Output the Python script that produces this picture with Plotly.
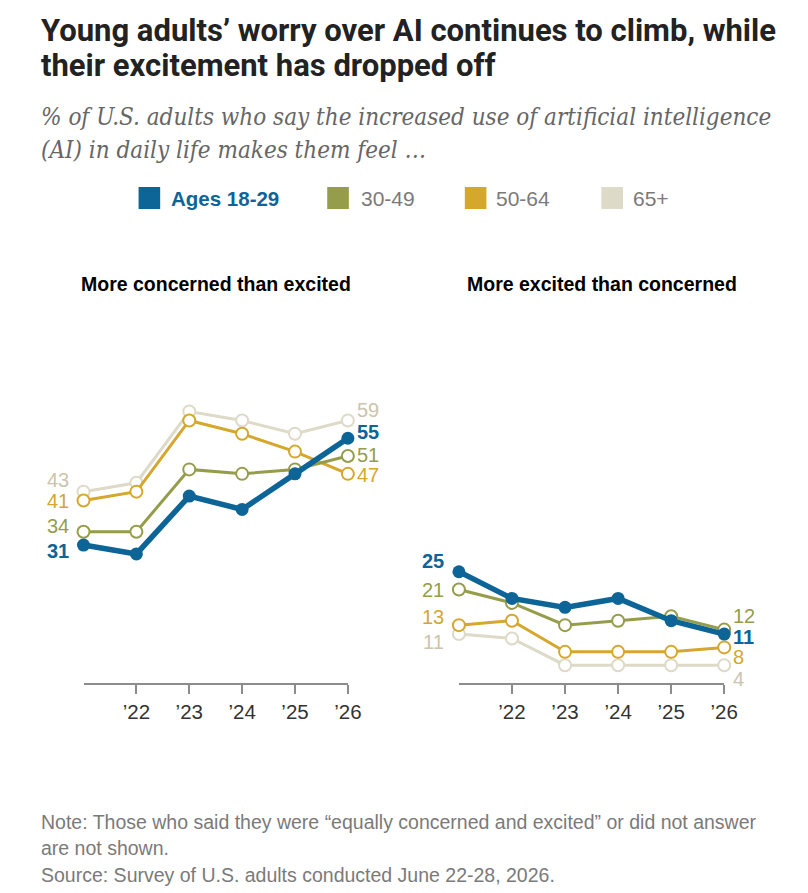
import plotly.graph_objects as go

W, H = 808, 893

years = [0, 1, 2, 3, 4, 5]
tick_vals = [1, 2, 3, 4, 5]
tick_text = ["\u201922", "\u201923", "\u201924", "\u201925", "\u201926"]

groups = ["Ages 18-29", "30-49", "50-64", "65+"]

concerned_18_29 = [31, 29, 42, 39, 47, 55]
concerned_30_49 = [34, 34, 48, 47, 48, 51]
concerned_50_64 = [41, 43, 59, 56, 52, 47]
concerned_65 = [43, 45, 61, 59, 56, 59]

excited_18_29 = [25, 19, 17, 19, 14, 11]
excited_30_49 = [21, 18, 13, 14, 15, 12]
excited_50_64 = [13, 14, 7, 7, 7, 8]
excited_65 = [11, 10, 4, 4, 4, 4]

panel_titles = ["More concerned than excited", "More excited than concerned"]

BLUE = "#0d6597"
OLIVE = "#959d4b"
GOLD = "#d5a72d"
BEIGE = "#dddac8"
BEIGE_TXT = "#cbc4ae"
colors = {"Ages 18-29": BLUE, "30-49": OLIVE, "50-64": GOLD, "65+": BEIGE}
label_colors = {"Ages 18-29": BLUE, "30-49": OLIVE, "50-64": GOLD, "65+": BEIGE_TXT}

concerned = {"Ages 18-29": concerned_18_29, "30-49": concerned_30_49,
             "50-64": concerned_50_64, "65+": concerned_65}
excited = {"Ages 18-29": excited_18_29, "30-49": excited_30_49,
           "50-64": excited_50_64, "65+": excited_65}


def px(x):
    return x / W


def py(y):
    return 1 - y / H


fig = go.Figure()

panels = [(concerned, "x", "y"), (excited, "x2", "y2")]
draw_order = ["65+", "50-64", "30-49", "Ages 18-29"]
for data, xa, ya in panels:
    for g in draw_order:
        young = g == "Ages 18-29"
        fig.add_trace(go.Scatter(
            x=years, y=data[g], xaxis=xa, yaxis=ya, mode="lines+markers",
            line=dict(color=colors[g], width=5.5 if young else 3),
            marker=dict(size=13 if young else 12,
                        color=colors[g] if young else "white",
                        line=dict(color=colors[g], width=0 if young else 2)),
            cliponaxis=False, showlegend=False, hoverinfo="skip"))

# label shifts (start, end) per panel, in pixels
shifts = [
    {"Ages 18-29": (-5, 7), "30-49": (6, 2), "50-64": (0, -1), "65+": (12, 11)},
    {"Ages 18-29": (11, -2), "30-49": (0, 14), "50-64": (9, -9), "65+": (-7, -13)},
]
annotations = []
for (data, xa, ya), sh in zip(panels, shifts):
    for g in groups:
        young = g == "Ages 18-29"
        fnt = dict(family="Liberation Sans, Arial, sans-serif", size=20,
                   color=label_colors[g])
        txt0 = f"<b>{data[g][0]}</b>" if young else str(data[g][0])
        txt1 = f"<b>{data[g][-1]}</b>" if young else str(data[g][-1])
        annotations.append(dict(x=years[0], y=data[g][0], xref=xa, yref=ya,
                                text=txt0, showarrow=False, xanchor="right",
                                xshift=-13, yshift=sh[g][0], font=fnt, height=19))
        annotations.append(dict(x=years[-1], y=data[g][-1], xref=xa, yref=ya,
                                text=txt1, showarrow=False, xanchor="left",
                                xshift=7, yshift=sh[g][1], font=fnt, height=19))

TITLE_FONT = "Liberation Sans Narrow, Arial Narrow, Roboto, sans-serif"
annotations += [
    dict(x=px(40), y=py(30), xref="paper", yref="paper", xanchor="left", yanchor="middle",
         text="<b>Young adults\u2019 worry over AI continues to climb, while</b>",
         showarrow=False, font=dict(family=TITLE_FONT, size=31, color="#222222")),
    dict(x=px(40), y=py(65), xref="paper", yref="paper", xanchor="left", yanchor="middle",
         text="<b>their excitement has dropped off</b>",
         showarrow=False, font=dict(family=TITLE_FONT, size=31, color="#222222")),
]
SUB_FONT = "DejaVu Serif Condensed, DejaVu Serif, serif"
annotations += [
    dict(x=px(40), y=py(117), xref="paper", yref="paper", xanchor="left", yanchor="middle",
         text="<i>% of U.S. adults who say the increased use of artificial intelligence</i>",
         showarrow=False, font=dict(family=SUB_FONT, size=24, color="#666666")),
    dict(x=px(40), y=py(150), xref="paper", yref="paper", xanchor="left", yanchor="middle",
         text="<i>(AI) in daily life makes them feel \u2026</i>",
         showarrow=False, font=dict(family=SUB_FONT, size=24, color="#666666")),
]

# legend
legend_pos = [(141, 172), (333, 365), (473, 503), (612, 642)]
shapes = []
for g, (sx, tx) in zip(groups, legend_pos):
    shapes.append(dict(type="rect", xref="paper", yref="paper",
                       x0=px(sx), x1=px(sx + 22), y0=py(209), y1=py(187),
                       fillcolor=colors[g], line=dict(width=0)))
    young = g == "Ages 18-29"
    annotations.append(dict(x=px(tx), y=py(199), xref="paper", yref="paper",
                            xanchor="left", yanchor="middle",
                            text=f"<b>{g}</b>" if young else g, showarrow=False,
                            font=dict(family="Liberation Sans, Arial, sans-serif",
                                      size=20.5 if young else 21,
                                      color=BLUE if young else "#7a7a7a")))

for t, cx in zip(panel_titles, [220, 613]):
    annotations.append(dict(x=px(cx), y=py(284), xref="paper", yref="paper",
                            xanchor="center", yanchor="middle", text=f"<b>{t}</b>",
                            showarrow=False,
                            font=dict(family="Liberation Sans, Arial, sans-serif",
                                      size=19.5, color="#000000")))

NOTE_FONT = dict(family="Liberation Sans, Arial, sans-serif", size=19.5, color="#7a7a7a")
notes = ["Note: Those who said they were \u201cequally concerned and excited\u201d or did not answer",
         "are not shown.",
         "Source: Survey of U.S. adults conducted June 22-28, 2026."]
for t, yy in zip(notes, [822, 848, 875]):
    annotations.append(dict(x=px(40), y=py(yy), xref="paper", yref="paper",
                            xanchor="left", yanchor="middle", text=t,
                            showarrow=False, font=NOTE_FONT))

axis_common = dict(range=[0, 5], showgrid=False, zeroline=False, showline=True,
                   linecolor="#8c8c8c", linewidth=2, ticks="outside", ticklen=9,
                   tickwidth=2, tickcolor="#8c8c8c", tickvals=tick_vals,
                   ticktext=tick_text, fixedrange=True,
                   tickfont=dict(family="Liberation Sans, Arial, sans-serif",
                                 size=20.5, color="#333333"))
yaxis_common = dict(range=[0, 70], visible=False, fixedrange=True,
                    domain=[py(683), py(683 - 70 * 4.45)])

fig.update_layout(
    width=W, height=H, margin=dict(l=0, r=0, t=0, b=0),
    paper_bgcolor="white", plot_bgcolor="white",
    xaxis=dict(domain=[px(85), px(354)], anchor="y", **axis_common),
    xaxis2=dict(domain=[px(467), px(737)], anchor="y2", **axis_common),
    yaxis=dict(anchor="x", **yaxis_common),
    yaxis2=dict(anchor="x2", **yaxis_common),
    annotations=annotations, shapes=shapes,
)

fig.write_html(
    "out.html",
    config={"displayModeBar": False, "responsive": False},
    post_script="document.body.style.margin='0';document.body.style.overflow='hidden';",
)
